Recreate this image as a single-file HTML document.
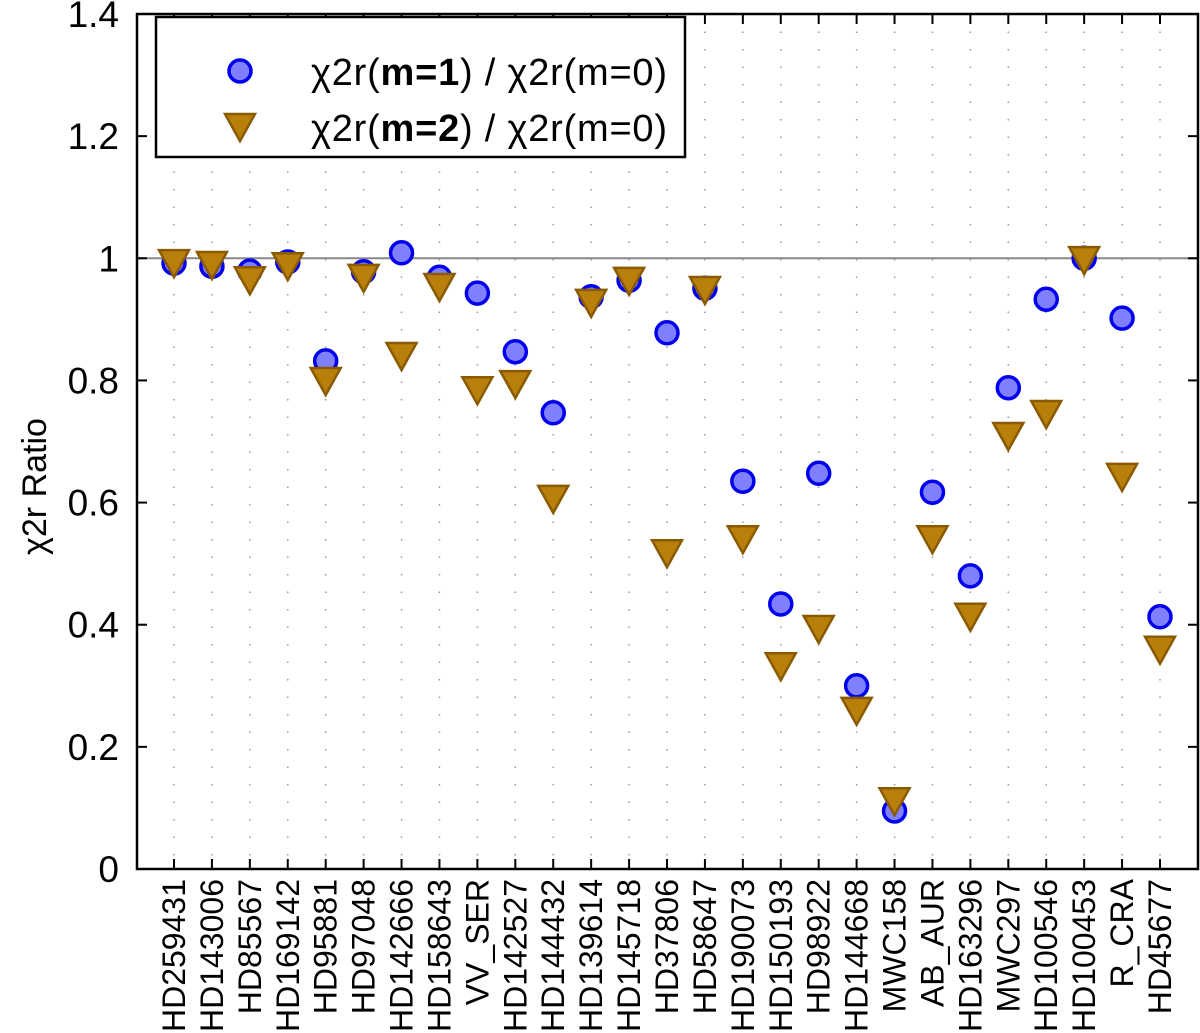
<!DOCTYPE html>
<html><head><meta charset="utf-8"><style>
html,body{margin:0;padding:0;background:#fff;}
svg{display:block;font-family:"Liberation Sans",sans-serif;}
</style></head><body>
<svg id="chart" width="1200" height="1033"></svg>
<script>
const categories=["HD259431","HD143006","HD85567","HD169142","HD95881","HD97048","HD142666","HD158643","VV_SER","HD142527","HD144432","HD139614","HD145718","HD37806","HD58647","HD190073","HD150193","HD98922","HD144668","MWC158","AB_AUR","HD163296","MWC297","HD100546","HD100453","R_CRA","HD45677"];
const m1Values=[0.992,0.987,0.979,0.994,0.832,0.978,1.009,0.969,0.943,0.847,0.747,0.937,0.964,0.878,0.951,0.635,0.434,0.648,0.300,0.095,0.617,0.480,0.788,0.933,1.000,0.902,0.413];
const m2Values=[0.992,0.989,0.964,0.987,0.799,0.968,0.840,0.953,0.784,0.794,0.606,0.927,0.963,0.517,0.948,0.540,0.332,0.393,0.259,0.111,0.540,0.413,0.709,0.745,0.997,0.642,0.359];
const yTicks=[0,0.2,0.4,0.6,0.8,1,1.2,1.4];
const yTickLabels=["0","0.2","0.4","0.6","0.8","1","1.2","1.4"];

const svg=document.getElementById('chart');
const NS="http://www.w3.org/2000/svg";
const L=137,R=1198,T=14,B=869,X0=174,X1=1160;
function xs(i){return X0+(X1-X0)*i/(categories.length-1);}
function ys(v){return B-(B-T)*v/1.4;}
function mk(tag,attrs,parent){const e=document.createElementNS(NS,tag);for(const k in attrs)e.setAttribute(k,attrs[k]);(parent||svg).appendChild(e);return e;}

categories.forEach((c,i)=>{
  const g=mk('line',{x1:xs(i),x2:xs(i),y1:T,y2:B,stroke:'#999','stroke-width':1.5,'stroke-dasharray':'1.5 16'});
  
  
});
const ref=mk('line',{x1:L,x2:R,y1:ys(1),y2:ys(1),stroke:'#888','stroke-width':2});



const box=mk('rect',{x:L,y:T,width:R-L,height:B-T,fill:'none',stroke:'#000','stroke-width':2.5});



yTicks.forEach((v,i)=>{
  const y=ys(v);
  mk('line',{x1:L,x2:L+10,y1:y,y2:y,stroke:'#000','stroke-width':2});
  mk('line',{x1:R-10,x2:R,y1:y,y2:y,stroke:'#000','stroke-width':2});
  const t=mk('text',{x:L-18,y:y+13,'text-anchor':'end','font-size':37});
  t.textContent=yTickLabels[i];
  
  
});
categories.forEach((c,i)=>{
  const x=xs(i);
  mk('line',{x1:x,x2:x,y1:B-10,y2:B,stroke:'#000','stroke-width':2});
  mk('line',{x1:x,x2:x,y1:T,y2:T+10,stroke:'#000','stroke-width':2});
  const t=mk('text',{x:0,y:0,'text-anchor':'end','font-size':32,transform:`translate(${x+11},${B+10}) rotate(-90)`});
  t.textContent=c;
  
  
});
const yl=mk('text',{x:0,y:0,'text-anchor':'middle','font-size':34,transform:`translate(46,${(T+B)/2+45}) rotate(-90)`});
yl.textContent="χ2r Ratio";



function circle(x,y,p){return mk('circle',{cx:x,cy:y,r:11,fill:'#8080ff',stroke:'#0000ee','stroke-width':3.5},p);}
function tri(x,y,p){return mk('polygon',{points:`${x-15},${y-13} ${x+15},${y-13} ${x},${y+14}`,fill:'#b8800a',stroke:'#8a5a00','stroke-width':2.5},p);}

m1Values.forEach((v,i)=>{
  const c=circle(xs(i),ys(v));
  
  
});
m2Values.forEach((v,i)=>{
  const t=tri(xs(i),ys(v));
  
  
});

const lg=mk('g',{});


mk('rect',{x:156,y:17,width:529,height:140,fill:'#fff',stroke:'#000','stroke-width':2.5},lg);
circle(240,71,lg);
tri(240,127,lg);
const l1=mk('text',{x:311,y:85,'font-size':38,textLength:356},lg);
l1.innerHTML='χ2r(<tspan font-weight="bold">m=1</tspan>) / χ2r(m=0)';


const l2=mk('text',{x:311,y:141,'font-size':38,textLength:356},lg);
l2.innerHTML='χ2r(<tspan font-weight="bold">m=2</tspan>) / χ2r(m=0)';


</script>
</body></html>
